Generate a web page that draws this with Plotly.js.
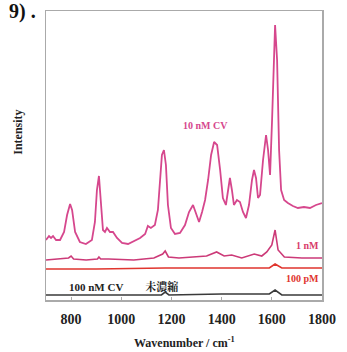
<!DOCTYPE html>
<html><head><meta charset="utf-8">
<script src="https://cdn.plot.ly/plotly-3.0.1.min.js"></script>
<style>body{margin:0;background:#fff}#c{width:347px;height:352px}</style>
</head><body><div id="c"></div>
<script>
// 10 nM CV spectrum (wavenumber, intensity a.u.)
const wn10 = [700,712,720,728,740,756,772,784,796,804,816,835,859,883,895,903,911,919,927,935,943,955,967,983,1003,1027,1051,1075,1095,1106,1118,1134,1146,1154,1162,1170,1178,1186,1198,1214,1234,1254,1270,1286,1298,1310,1322,1334,1346,1358,1370,1382,1394,1405,1417,1425,1433,1441,1449,1461,1473,1485,1497,1509,1521,1529,1537,1545,1553,1565,1577,1585,1593,1601,1609,1613,1621,1629,1637,1649,1664,1684,1704,1728,1752,1776,1800];
const int10 = [60,64,62,64,60,60,68,85,96,90,68,58,56,60,78,110,124,100,70,68,72,68,68,62,57,56,59,62,66,74,72,75,90,120,145,150,135,95,72,66,67,75,88,95,86,78,88,100,120,145,158,155,130,102,95,110,122,110,95,100,98,88,82,95,120,130,122,102,105,140,165,150,125,180,260,275,240,150,110,100,97,94,92,93,92,95,97];
// 1 nM
const wn1 = [700,740,790,800,810,860,905,911,918,950,1050,1130,1165,1175,1188,1230,1290,1340,1380,1410,1440,1480,1530,1560,1580,1600,1613,1625,1650,1720,1800];
const int1 = [40,41,42,44,41,40,41,43,41,41,40,42,46,49,43,42,43,44,48,44,45,42,46,44,48,55,70,50,43,42,42];
// 100 pM
const wnP = [700,900,1175,1400,1590,1613,1640,1800];
const intP = [31,31,32,32,32,36,32,32];
// 100 nM CV (not concentrated)
const wnN = [700,900,1160,1175,1190,1400,1590,1613,1640,1800];
const intN = [5,5,5,8,5,6,6,10,5,5];

const traces = [
  {x:wnN, y:intN, mode:'lines', line:{color:'#3a3a3a', width:1.6}},
  {x:wnP, y:intP, mode:'lines', line:{color:'#e0352e', width:1.6}},
  {x:wn1, y:int1, mode:'lines', line:{color:'#cc3a78', width:1.6}},
  {x:wn10, y:int10, mode:'lines', line:{color:'#d6478d', width:1.8}}
];
const serif = 'Liberation Serif, Noto Serif CJK JP, Noto Sans CJK JP, serif';
const layout = {
  width:347, height:352, showlegend:false,
  margin:{l:46, r:25, t:11, b:52},
  paper_bgcolor:'#fff', plot_bgcolor:'#fff',
  font:{family:serif, color:'#222'},
  xaxis:{range:[700,1800], tickvals:[800,1000,1200,1400,1600,1800], ticks:'inside', ticklen:3,
    tickcolor:'#aaa', showline:true, mirror:true, linecolor:'#aaa', linewidth:1.5, showgrid:false, zeroline:false,
    ticklabelstandoff:6,
    tickfont:{family:serif, size:14, color:'#222', weight:'bold'}},
  yaxis:{range:[0,289], showticklabels:false, ticks:'', showline:true, mirror:true, linecolor:'#aaa', linewidth:1.5,
    showgrid:false, zeroline:false},
  annotations:[
    {xref:'paper', yref:'paper', x:-0.14, y:1.045, xanchor:'left', yanchor:'top', text:'<b>9) .</b>', showarrow:false,
      font:{family:serif, size:20, color:'#111'}},
    {xref:'paper', yref:'paper', x:-0.1, y:0.58, xanchor:'center', yanchor:'middle', textangle:-90, text:'<b>Intensity</b>',
      showarrow:false, font:{family:serif, size:12, color:'#222'}},
    {xref:'paper', yref:'paper', x:0.5, y:-0.148, xanchor:'center', yanchor:'middle', text:'<b>Wavenumber / cm<sup>-1</sup></b>',
      showarrow:false, font:{family:serif, size:12, color:'#222'}},
    {x:1334, y:175, text:'<b>10 nM CV</b>', showarrow:false, font:{family:serif, size:10, color:'#d6478d'}},
    {x:1795, y:55, xanchor:'right', text:'<b>1 nM</b>', showarrow:false, font:{family:serif, size:10, color:'#d83c6a'}},
    {x:1795, y:22, xanchor:'right', text:'<b>100 pM</b>', showarrow:false, font:{family:serif, size:10, color:'#e0352e'}},
    {x:1010, y:14, text:'<b>100 nM CV　　未濃縮</b>', showarrow:false, font:{family:serif, size:11, color:'#222'}}
  ]
};
Plotly.newPlot('c', traces, layout, {displayModeBar:false, staticPlot:true});
</script></body></html>
